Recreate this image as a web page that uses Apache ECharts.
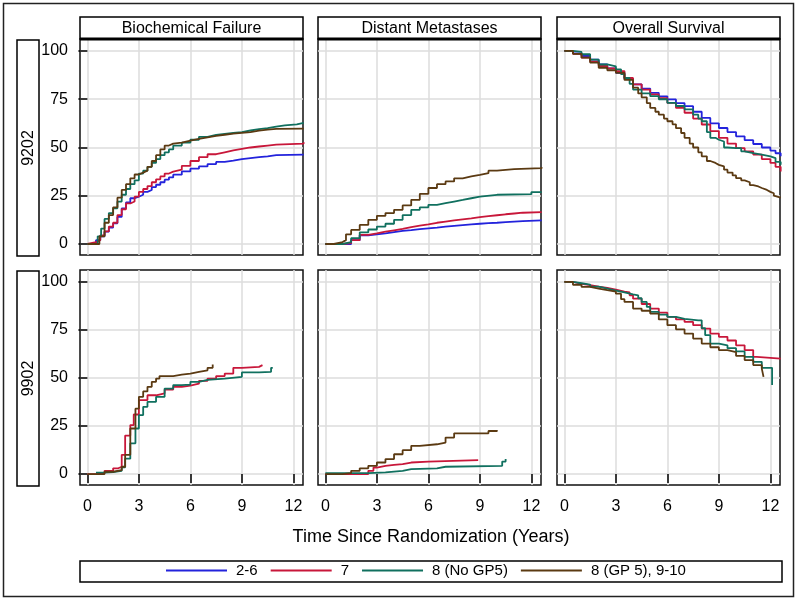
<!DOCTYPE html>
<html><head><meta charset="utf-8">
<script src="https://cdn.jsdelivr.net/npm/echarts@6/dist/echarts.min.js"></script>
<style>html,body{margin:0;padding:0;background:#fff}#c{width:800px;height:600px}</style>
</head><body><div id="c"></div>
<script>
const groups = ['2-6', '7', '8 (No GP5)', '8 (GP 5), 9-10'];
const colors = ['#2323dc', '#c8173a', '#10705f', '#5b3a12'];
const endpoints = ['Biochemical Failure', 'Distant Metastases', 'Overall Survival'];
const trials = ['9202', '9902'];
const xTicks = [0, 3, 6, 9, 12];
const yTicks = [0, 25, 50, 75, 100];
const xTitle = 'Time Since Randomization (Years)';

// ---- RTOG 9202: Biochemical Failure ----
const bf9202_26 = [[0,0],[0.3,0],[0.5,2],[0.75,4],[1,6.4],[1.25,8.5],[1.5,10.7],[1.75,14],[2,18.5],[2.25,21.5],[2.5,23.7],[2.75,24.5],[3,25.5],[3.25,27],[3.5,28],[3.75,29.5],[4,30.7],[4.25,32],[4.5,33.3],[4.75,34.5],[5,35.9],[5.5,37.6],[6,39],[6.5,40.2],[7,41.4],[7.5,42.5],[8,43.2],[8.5,44],[9,44.5],[9.5,45],[10,45.4],[10.5,46],[11,46.3],[12.6,46.6]];
const bf9202_7 = [[0,0],[0.1,1],[0.5,2],[0.75,4.5],[1,6.5],[1.25,9],[1.5,11],[1.75,15],[2,18],[2.25,21],[2.5,22],[2.75,24.5],[3,27],[3.25,28.5],[3.5,30],[3.75,32],[4,33.5],[4.25,35],[4.5,36.5],[4.75,37.5],[5,38.5],[5.5,40.5],[6,43],[6.5,45],[7,46.5],[7.5,47.5],[8,48.5],[8.5,49.3],[9,50],[9.5,50.5],[10,51],[10.5,51.5],[11,52],[12.6,52.7]];
const bf9202_8 = [[0,0],[0.4,0],[0.6,4],[0.8,8],[1,13],[1.25,16],[1.5,18.5],[1.75,22],[2,25.5],[2.25,28.5],[2.5,31],[2.75,33],[3,36.5],[3.25,38],[3.5,40],[3.75,42],[4,44],[4.25,46],[4.5,47.5],[4.75,49],[5,51],[5.5,52.5],[6,54],[6.5,55.5],[7,56.5],[7.5,57],[8,57.5],[8.5,58],[9,58.8],[9.5,59.5],[10,60],[10.5,60.8],[11,61.5],[11.5,62],[12.2,62.7],[12.6,62.7]];
const bf9202_9 = [[0,0],[0.5,0],[0.7,4],[1,11],[1.25,15],[1.5,19],[1.75,24],[2,28],[2.25,31],[2.5,34],[2.75,36],[3,37],[3.25,38],[3.5,40],[3.75,43],[4,46],[4.25,49],[4.5,51],[4.75,52],[5,52.5],[5.5,53.5],[6,54.5],[6.5,55.2],[7,56],[7.5,56.6],[8,57.2],[8.5,57.6],[9,58],[9.5,58.7],[10,59.3],[10.5,59.6],[11,59.8],[12.6,59.8]];
// ---- RTOG 9202: Distant Metastases ----
const dm9202_26 = [[0,0],[1,0],[1.5,2],[2,4.5],[2.5,5],[3,5.5],[3.5,6.2],[4,6.8],[4.5,7.2],[5,7.7],[5.5,8.1],[6,8.5],[6.5,9],[7,9.4],[7.5,9.8],[8,10.2],[8.5,10.5],[9,10.8],[9.5,11],[10,11.3],[10.5,11.6],[11,11.9],[11.5,12.2],[12.6,12.5]];
const dm9202_7 = [[0,0],[1,0.5],[1.5,2],[2,4.7],[2.5,5.5],[3,6.4],[3.5,7.1],[4,7.8],[4.5,8.7],[5,9.5],[5.5,10.2],[6,11],[6.5,11.6],[7,12.2],[7.5,12.8],[8,13.3],[8.5,13.9],[9,14.4],[9.5,14.9],[10,15.4],[10.5,15.8],[11,16.2],[11.5,16.5],[12.6,16.8]];
const dm9202_8 = [[0,0],[1,1],[1.5,3],[2,6],[2.5,7.5],[3,9],[3.5,10.5],[4,12.5],[4.5,15],[5,17.7],[5.5,19],[6,20.3],[6.5,21.2],[7,22],[7.5,22.8],[8,23.7],[8.5,24.5],[9,25.5],[10,25.8],[12,26.9],[12.6,26.9]];
const dm9202_9 = [[0,0],[0.5,1],[1,2],[1.2,5],[1.5,7.3],[2,9.9],[2.5,12.5],[3,14.6],[3.5,16],[4,17.7],[4.5,20],[5,22.9],[5.5,26],[6,29],[6.5,31],[7,32.4],[7.5,34],[8,35],[8.5,35.8],[9,36.7],[9.5,38],[10,38.8],[11,39.3],[12.6,39.7]];
// ---- RTOG 9202: Overall Survival ----
const os9202_26 = [[0,100],[0.5,98.8],[1,97.4],[1.5,95.5],[2,93],[2.5,91],[3,88.7],[3.5,85.5],[4,82.7],[4.5,80.5],[5,78.3],[5.5,76.5],[6,74.9],[6.5,73],[7,71.4],[7.5,68.5],[8,65.3],[8.5,62.5],[9,60.1],[9.5,58],[10,55.8],[10.5,53.8],[11,51.8],[11.5,50],[12,48.4],[12.3,47],[12.6,45.4]];
const os9202_7 = [[0,100],[0.5,98.5],[1,96.5],[1.5,94.5],[2,92.2],[2.5,91],[3,89.6],[3.5,86],[4,82.7],[4.5,80],[5,77.5],[5.5,75.5],[6,73.1],[6.5,70.5],[7,68],[7.5,65],[8,61.9],[8.5,58.5],[9,55],[9.5,52],[10,49.7],[10.5,48],[11,46.3],[11.5,44],[12,42],[12.3,40],[12.6,37.6]];
const os9202_8 = [[0,100],[0.5,99.5],[1,98.3],[1.5,95.5],[2,93],[2.5,92],[3,90.5],[3.3,88],[3.5,86],[3.8,83],[4,80],[4.5,78],[5,76.6],[5.5,75],[6,73.1],[6.5,71.5],[7,69.7],[7.5,67],[7.8,65],[8,63.6],[8.3,58],[8.5,55],[8.8,54],[9,53.1],[9.3,50],[9.5,49.7],[10,49.7],[10.3,48],[10.5,47.1],[11,46.3],[11.5,45.4],[12,44.5],[12.3,42.5],[12.6,41]];
const os9202_9 = [[0,100],[0.5,98.5],[1,96.5],[1.5,94],[2,91.3],[2.5,90],[3,88.7],[3.5,85],[4,81],[4.3,78],[4.5,76],[4.8,73],[5,70.5],[5.3,68.5],[5.5,67],[5.8,65],[6,63.6],[6.3,62],[6.5,60],[6.8,57.5],[7,55],[7.3,52],[7.5,50],[7.8,47.5],[8,45.4],[8.3,43],[8.5,42],[8.8,41],[9,40.2],[9.3,38.5],[9.5,37],[9.8,35.5],[10,34.1],[10.3,33],[10.5,32],[10.8,30.5],[11,29.8],[11.3,29],[11.5,28],[11.8,27],[12,26.3],[12.2,25],[12.3,24],[12.6,23.7]];
// ---- RTOG 9902: Biochemical Failure ----
const bf9902_7 = [[0,0],[0.5,0.5],[1,1.7],[1.5,3],[1.8,3.8],[2,10],[2.2,20],[2.5,25.5],[2.7,31],[3,38.5],[3.5,41],[4,42],[4.5,44],[5,45.4],[5.5,46],[6,47],[6.5,48.5],[7,49.7],[7.5,51],[8,52.3],[8.5,55.3],[9,55.8],[10,56.7],[10.2,56.7]];
const bf9902_8 = [[0.5,0.7],[1,1],[1.5,1.7],[2,3.5],[2.2,8],[2.5,16],[2.8,23.7],[3,30.7],[3.25,35],[3.5,37.6],[4,40.2],[4.5,44.5],[5,46.3],[5.5,46.5],[6,48],[6.5,49],[7,49.7],[8,50.6],[9,52.9],[10,53.2],[10.7,55.3],[10.8,55.3]];
const bf9902_9 = [[0,0],[0.8,0],[1,1.2],[1.5,2],[2,3.8],[2.2,10],[2.5,23.7],[2.8,34],[3,40.2],[3.25,43],[3.5,45.4],[3.75,48],[4,49.7],[4.2,51],[5,51.8],[5.5,52.3],[6,53.2],[6.5,54],[7,55.3],[7.3,57]];
// ---- RTOG 9902: Distant Metastases ----
const dm9902_7 = [[0,0],[2.3,0],[2.5,1.7],[2.8,3.4],[3,4.3],[3.5,4.8],[4,5.2],[4.5,6],[5,6.5],[6,7.2],[8.9,7.2]];
const dm9902_8 = [[0,0.5],[2.5,0.9],[3.5,1.7],[4.5,2.6],[5,3],[6.5,3.8],[7,4.3],[10.3,6.5],[10.5,7.8]];
const dm9902_9 = [[0,0],[1,0.5],[1.5,1.7],[2,3],[2.5,4.3],[3,6],[3.5,7.8],[4,10.3],[4.5,12.4],[5,14.7],[5.5,15.5],[6.5,16.4],[7,19],[7.5,21.2],[9.5,22.4],[10,22.8]];
// ---- RTOG 9902: Overall Survival ----
const os9902_7 = [[0,100],[0.5,99],[1,98.3],[1.5,97.5],[2,96.9],[2.5,96],[3,95],[3.5,94.5],[3.8,93],[4,91.3],[4.5,88.5],[5,86.1],[5.5,84],[6,81.8],[6.5,80.5],[7,79.2],[7.5,77.5],[8,75.7],[8.5,73.1],[9,71.4],[9.5,69.5],[10,67],[10.5,64.5],[11,61],[11.2,60.1],[12.6,60.1]];
const os9902_8 = [[0,100],[0.5,99.3],[1,98.6],[1.5,97.5],[2,96.5],[2.5,95.5],[3,94.5],[3.5,93.5],[4,93],[4.3,91.5],[4.5,89.6],[4.8,87],[5,84.4],[5.5,83],[6,81.8],[6.5,80.8],[7,80],[7.8,80],[8,76],[8.2,72.3],[8.5,67.9],[9,67],[9.5,65.5],[10,63.8],[10.5,61],[11,58.4],[11.5,55.3],[12.1,55.3],[12.1,46.3]];
const os9902_9 = [[0,100],[0.5,98.5],[1,97.4],[1.5,96.5],[2,95.7],[2.5,95],[3,93.9],[3.3,91],[3.5,89.6],[4,86.1],[4.5,85],[5,83.5],[5.5,80.5],[6,77.5],[6.5,75.3],[7,73.1],[7.5,70.5],[8,67.9],[8.5,66],[9,64.5],[9.5,63.5],[10,61.5],[10.5,59.3],[11,56.7],[11.5,54.9],[11.6,54.9],[11.6,50.6]];

const panelData = [
  [[bf9202_26, bf9202_7, bf9202_8, bf9202_9], [dm9202_26, dm9202_7, dm9202_8, dm9202_9], [os9202_26, os9202_7, os9202_8, os9202_9]],
  [[null, bf9902_7, bf9902_8, bf9902_9], [null, dm9902_7, dm9902_8, dm9902_9], [null, os9902_7, os9902_8, os9902_9]]
];

const FONT = "'Liberation Sans', Arial, sans-serif";
const colLeft = [80, 318, 557];
const colW = 223;
const rowTop = [39, 270];
const rowH = [216, 215];

const grids = [], xAxes = [], yAxes = [], series = [], graphics = [];
let idx = 0;
for (let r = 0; r < 2; r++) {
  for (let c = 0; c < 3; c++) {
    grids.push({left: colLeft[c], top: rowTop[r], width: colW, height: rowH[r], show: true,
      borderColor: '#111', borderWidth: 1.5, backgroundColor: '#fff', containLabel: false});
    xAxes.push({gridIndex: idx, type: 'value', min: -0.43, max: 12.56,
      axisLine: {show: false},
      axisTick: {show: true, customValues: xTicks, length: 9,
        lineStyle: {color: r === 1 ? '#000' : 'rgba(0,0,0,0)', width: 1.5}},
      axisLabel: {show: r === 1, customValues: xTicks, fontSize: 16, color: '#000', margin: 14, fontFamily: FONT},
      splitLine: {show: true, lineStyle: {color: '#dcdcdc', width: 1.5}}});
    yAxes.push({gridIndex: idx, type: 'value', min: -5.7, max: 106.2,
      axisLine: {show: false},
      axisTick: {show: true, customValues: yTicks, length: 9,
        lineStyle: {color: c === 0 ? '#000' : 'rgba(0,0,0,0)', width: 1.5}},
      axisLabel: {show: c === 0, customValues: yTicks, fontSize: 16, color: '#000', margin: 12, fontFamily: FONT},
      splitLine: {show: true, lineStyle: {color: '#dcdcdc', width: 1.5}}});
    panelData[r][c].forEach((d, g) => {
      if (!d) return;
      series.push({type: 'line', name: groups[g], xAxisIndex: idx, yAxisIndex: idx, data: d,
        step: 'end', showSymbol: false, symbol: 'none', clip: true,
        lineStyle: {width: 1.8, color: colors[g]}, itemStyle: {color: colors[g]},
        emphasis: {disabled: true}, animation: false, z: 3});
    });
    idx++;
  }
}

// strip headers
for (let c = 0; c < 3; c++) {
  graphics.push({type: 'rect', shape: {x: colLeft[c], y: 17, width: colW, height: 22},
    style: {fill: '#fff', stroke: '#000', lineWidth: 1.5}, z: 10});
  graphics.push({type: 'line', shape: {x1: colLeft[c], y1: 39, x2: colLeft[c] + colW, y2: 39},
    style: {stroke: '#000', lineWidth: 3}, z: 11});
  graphics.push({type: 'text', x: colLeft[c] + colW / 2, y: 28.5,
    style: {text: endpoints[c], font: '16px ' + FONT, fill: '#000', textAlign: 'center', textVerticalAlign: 'middle', align: 'center', verticalAlign: 'middle'}, z: 12});
}
// row labels
for (let r = 0; r < 2; r++) {
  graphics.push({type: 'rect', shape: {x: 17, y: rowTop[r] + 1, width: 22, height: rowH[r]},
    style: {fill: '#fff', stroke: '#000', lineWidth: 1.5}, z: 10});
  graphics.push({type: 'text', x: 28.5, y: rowTop[r] + 1 + rowH[r] / 2, rotation: Math.PI / 2,
    style: {text: trials[r], font: '16px ' + FONT, fill: '#000', textAlign: 'center', textVerticalAlign: 'middle', align: 'center', verticalAlign: 'middle'}, z: 12});
}
// axis title
graphics.push({type: 'text', x: 431, y: 537,
  style: {text: xTitle, font: '18px ' + FONT, fill: '#000', textAlign: 'center', textVerticalAlign: 'middle', align: 'center', verticalAlign: 'middle'}, z: 12});
// legend frame
graphics.push({type: 'rect', shape: {x: 80, y: 561, width: 702, height: 21},
  style: {fill: 'none', stroke: '#000', lineWidth: 1.5}, z: 1});
// outer frame
graphics.push({type: 'rect', shape: {x: 3.5, y: 3.5, width: 790, height: 593},
  style: {fill: 'none', stroke: '#222', lineWidth: 1.5}, z: 1});

const chart = echarts.init(document.getElementById('c'), null, {renderer: 'canvas'});
chart.setOption({
  animation: false,
  backgroundColor: '#fff',
  color: colors,
  grid: grids, xAxis: xAxes, yAxis: yAxes, series: series,
  legend: {data: groups, left: 166, top: 563, padding: 0, icon: 'rect', itemWidth: 61, itemHeight: 2,
    itemGap: 13, selectedMode: false,
    textStyle: {fontSize: 15, color: '#000', fontFamily: FONT, padding: [0, 0, 0, 4]}},
  graphic: graphics
});
</script></body></html>
